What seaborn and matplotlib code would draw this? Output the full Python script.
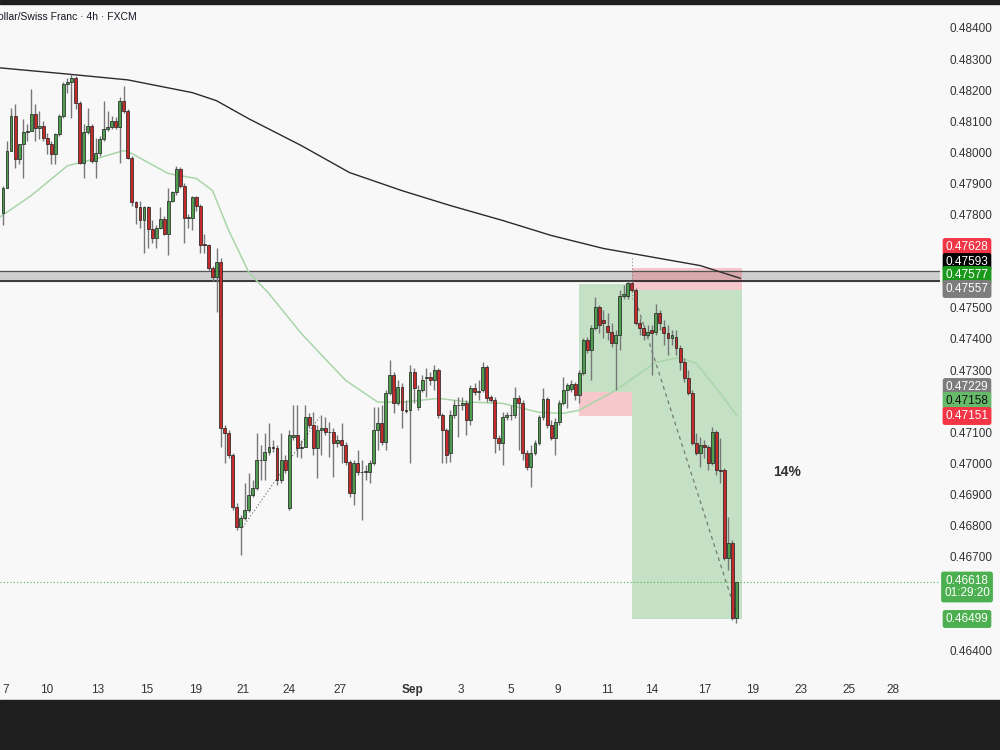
import numpy as np
import pandas as pd
import seaborn as sns
import matplotlib.pyplot as plt
from matplotlib.patches import Rectangle

# NZD/CHF 4h candles, prices in 1e-5 units
opens = [
    47806, 47887, 48006, 48118, 47980, 48028, 48066, 48070, 48124, 48079,
    48086, 48047, 48028, 47996, 48060, 48118, 48221, 48227, 48240, 48160,
    47967, 48066, 48086, 47973, 47999, 48044, 48076, 48083, 48102, 48083,
    48166, 48134, 47983, 47839, 47823, 47781, 47823, 47755, 47726, 47758,
    47787, 47739, 47845, 47871, 47948, 47893, 47790, 47790, 47855, 47829,
    47707, 47701, 47627, 47598, 47646, 47113, 47097, 47026, 46860, 46795,
    46824, 46850, 46898, 46921, 47010, 47010, 47036, 47052, 47049, 46946,
    47010, 46856, 47084, 47091, 47049, 47052, 47148, 47123, 47049, 47107,
    47113, 47100, 47100, 47065, 47075, 47059, 47004, 46905, 47001, 46972,
    46972, 46972, 47001, 47107, 47129, 47068, 47226, 47283, 47193, 47245,
    47171, 47171, 47293, 47180, 47235, 47274, 47277, 47267, 47299, 47155,
    47107, 47033, 47155, 47187, 47187, 47193, 47139, 47242, 47229, 47235,
    47309, 47213, 47203, 47081, 47065, 47148, 47155, 47155, 47209, 47193,
    47033, 46988, 47033, 47065, 47148, 47206, 47123, 47081, 47132, 47193,
    47235, 47238, 47254, 47219, 47290, 47396, 47364, 47434, 47502, 47460,
    47441, 47421, 47386, 47412, 47537, 47537, 47579, 47556, 47453, 47434,
    47412, 47428, 47421, 47482, 47437, 47418, 47402, 47405, 47370, 47325,
    47274, 47226, 47065, 47033, 47059, 47052, 47001, 47100, 46978, 46978,
    46696, 46744, 46503,
]
highs = [
    47893, 48038, 48144, 48156, 48028, 48108, 48092, 48205, 48156, 48134,
    48102, 48063, 48038, 48063, 48124, 48227, 48240, 48253, 48246, 48166,
    48092, 48144, 48092, 48047, 48054, 48166, 48134, 48118, 48115, 48179,
    48214, 48140, 47989, 47845, 47845, 47829, 47829, 47781, 47765, 47823,
    47797, 47884, 47877, 47957, 47954, 47900, 47803, 47861, 47861, 47835,
    47739, 47707, 47636, 47691, 47659, 47123, 47107, 47033, 46872, 46834,
    46937, 46969, 46946, 47097, 47059, 47097, 47129, 47075, 47059, 47097,
    47026, 47107, 47187, 47187, 47075, 47187, 47161, 47164, 47123, 47155,
    47148, 47132, 47113, 47091, 47129, 47068, 47010, 47010, 47043, 47010,
    46994, 47010, 47180, 47180, 47187, 47235, 47331, 47293, 47267, 47258,
    47203, 47315, 47306, 47251, 47283, 47306, 47293, 47315, 47306, 47161,
    47113, 47171, 47203, 47213, 47213, 47203, 47251, 47258, 47267, 47325,
    47315, 47219, 47213, 47091, 47164, 47164, 47187, 47245, 47219, 47203,
    47043, 47059, 47075, 47155, 47242, 47213, 47139, 47145, 47203, 47277,
    47258, 47267, 47261, 47299, 47402, 47405, 47444, 47534, 47508, 47492,
    47482, 47450, 47428, 47556, 47572, 47585, 47585, 47563, 47466, 47444,
    47444, 47444, 47514, 47492, 47460, 47444, 47428, 47428, 47380, 47338,
    47299, 47235, 47097, 47084, 47075, 47059, 47116, 47107, 47081, 46985,
    46827, 46754, 46620,
]
lows = [
    47765, 47884, 48006, 47951, 47964, 47916, 48038, 48070, 48038, 48044,
    48038, 47996, 47964, 47964, 48054, 48111, 48192, 48111, 48140, 47964,
    47919, 48060, 47967, 47919, 47989, 48038, 48070, 48076, 48076, 47967,
    48127, 47980, 47829, 47771, 47758, 47678, 47694, 47710, 47691, 47755,
    47733, 47669, 47839, 47864, 47884, 47710, 47758, 47749, 47813, 47678,
    47675, 47620, 47588, 47486, 47052, 47001, 47017, 46850, 46786, 46705,
    46818, 46844, 46892, 46914, 46946, 46946, 47026, 47036, 46930, 46937,
    46969, 46850, 47075, 47020, 47017, 47052, 47113, 47026, 46953, 47026,
    47091, 47020, 46956, 47052, 47001, 46994, 46892, 46866, 46962, 46818,
    46946, 46937, 46994, 47043, 47059, 47043, 47219, 47161, 47187, 47113,
    47161, 47001, 47193, 47171, 47229, 47213, 47251, 47235, 47145, 47001,
    47001, 47004, 47145, 47084, 47171, 47091, 47123, 47219, 47203, 47229,
    47197, 47197, 47033, 47043, 46994, 47139, 47139, 47145, 47043, 47010,
    46978, 46924, 47026, 47059, 47139, 47113, 47075, 47026, 47123, 47187,
    47177, 47229, 47203, 47193, 47283, 47354, 47267, 47428, 47418, 47402,
    47396, 47373, 47235, 47364, 47530, 47530, 47550, 47444, 47412, 47396,
    47405, 47283, 47412, 47428, 47380, 47347, 47380, 47347, 47299, 47261,
    47219, 47059, 47026, 46988, 47017, 46978, 46994, 46962, 46937, 46689,
    46657, 46497, 46487,
]
closes = [
    47887, 48006, 48118, 47980, 48028, 48066, 48070, 48124, 48079, 48086,
    48047, 48028, 47996, 48060, 48118, 48221, 48227, 48240, 48160, 47967,
    48066, 48086, 47973, 47999, 48044, 48076, 48083, 48102, 48083, 48166,
    48134, 47983, 47839, 47823, 47781, 47823, 47755, 47726, 47758, 47787,
    47739, 47845, 47871, 47948, 47893, 47790, 47792, 47855, 47829, 47701,
    47701, 47627, 47598, 47646, 47113, 47097, 47026, 46860, 46795, 46824,
    46850, 46898, 46921, 47010, 47012, 47036, 47052, 47049, 46946, 47010,
    46978, 47091, 47091, 47049, 47052, 47148, 47123, 47049, 47107, 47113,
    47100, 47101, 47065, 47075, 47059, 47004, 46905, 47001, 46972, 46973,
    46975, 47001, 47107, 47129, 47068, 47226, 47283, 47193, 47245, 47171,
    47168, 47293, 47242, 47235, 47267, 47277, 47267, 47299, 47155, 47107,
    47026, 47155, 47187, 47189, 47193, 47139, 47242, 47229, 47232, 47309,
    47209, 47203, 47081, 47065, 47148, 47155, 47157, 47209, 47193, 47033,
    46988, 47033, 47065, 47148, 47206, 47123, 47081, 47132, 47193, 47235,
    47251, 47254, 47219, 47290, 47396, 47364, 47434, 47502, 47444, 47450,
    47421, 47386, 47412, 47537, 47546, 47579, 47556, 47453, 47434, 47412,
    47421, 47418, 47482, 47450, 47418, 47402, 47412, 47370, 47325, 47274,
    47226, 47065, 47033, 47059, 47052, 47001, 47100, 46978, 46975, 46696,
    46744, 46503, 46618,
]

# moving averages, read at candle positions
ma_slow_idx = [-1, 15, 31, 47, 53, 61, 74, 86, 99, 111, 124, 136, 149, 156, 163, 173, 183]
ma_slow = [48272, 48253, 48233, 48192, 48166, 48108, 48022, 47935, 47877, 47829,
           47781, 47733, 47691, 47675, 47659, 47636, 47595]
ma_fast_idx = [-1, 7, 16, 24, 30, 32, 41, 48, 52, 56, 61, 66, 74, 85, 93, 99, 108,
               116, 124, 133, 139, 143, 152, 162, 168, 172, 178, 182]
ma_fast = [47790, 47861, 47957, 47983, 48006, 47996, 47932, 47916, 47877, 47749,
           47614, 47546, 47418, 47267, 47197, 47197, 47209, 47197, 47193, 47164,
           47161, 47171, 47235, 47325, 47341, 47322, 47226, 47155]

tick_pos = [0.6, 10.9, 23.6, 35.7, 47.9, 59.6, 71.0, 83.6, 101.7, 113.7, 126.1,
            137.7, 149.9, 161.0, 174.2, 185.9, 198.0, 209.9, 220.8]
tick_labels = ["7", "10", "13", "15", "19", "21", "24", "27", "Sep", "3", "5", "9",
               "11", "14", "17", "19", "23", "25", "28"]
price_ticks = [0.484, 0.483, 0.482, 0.481, 0.480, 0.479, 0.478, 0.475, 0.474, 0.473,
               0.471, 0.470, 0.469, 0.468, 0.467, 0.464]

# drawn levels
zone_top, zone_bot = 0.47620, 0.47585
long_stop, long_entry, long_target = 0.47151, 0.47229, 0.47577
short_stop, short_entry, short_target = 0.47628, 0.47557, 0.46499
last_price = 0.46618

bg = "#f8f8f8"
up_col, down_col = "#4f9d4f", "#c42b2b"

sns.set_theme(style="white", rc={"axes.facecolor": bg, "figure.facecolor": bg})
plt.rcParams["font.family"] = ["Liberation Sans", "DejaVu Sans"]

df = pd.DataFrame({"o": opens, "h": highs, "l": lows, "c": closes}) / 1e5
df["i"] = np.arange(len(df))
df["h"] = df[["h", "o", "c"]].max(axis=1)
df["l"] = df[["l", "o", "c"]].min(axis=1)
df["up"] = df["c"] >= df["o"]

fig = plt.figure(figsize=(10, 7.5), dpi=100)
ax = fig.add_axes([0, 1 - 678 / 750, 0.94, 673 / 750])
ax.set_xlim(-0.74, 232.5)
ax.set_ylim(0.463101, 0.484738)

# support / resistance zone
ax.axhspan(zone_bot, zone_top, color="#cfcfcf", zorder=1)
ax.axhline(zone_top, color="#555555", lw=0.9, zorder=2)
ax.axhline(zone_bot, color="#111111", lw=1.1, zorder=2)

# long position box
ax.fill_between([143.0, 156.0], long_entry, long_target, color="#4caf50", alpha=0.3, lw=0, zorder=1)
ax.fill_between([143.0, 156.0], long_stop, long_entry, color="#f23645", alpha=0.25, lw=0, zorder=1)
# short position box
ax.fill_between([156.0, 183.3], short_entry, short_stop, color="#f23645", alpha=0.25, lw=0, zorder=1)
ax.fill_between([156.0, 183.3], short_target, short_entry, color="#4caf50", alpha=0.3, lw=0, zorder=1)

# trend lines
ax.plot([157, 182.3], [0.47524, 0.46503], color="#777777", lw=0.9, ls=(0, (3, 3)), zorder=2)
ax.plot([59.5, 78.5], [0.46795, 0.47148], color="#666666", lw=0.8, ls=(0, (1, 2)), zorder=2)
ax.plot([156.2, 156.2], [0.47530, 0.47668], color="#888888", lw=0.8, ls=(0, (1, 2)), zorder=2)

# current price line
ax.axhline(last_price, color="#4caf50", lw=0.8, ls=(0, (1, 2)), zorder=2)

# moving averages
sns.lineplot(x=ma_slow_idx, y=np.array(ma_slow) / 1e5, ax=ax, color="#2b2b2b", lw=1.0, zorder=3)
sns.lineplot(x=ma_fast_idx, y=np.array(ma_fast) / 1e5, ax=ax, color="#a8d6a8", lw=1.1, zorder=3)

# candles
ax.vlines(df["i"], df["l"], df["h"], color="#777777", lw=1.0, zorder=4)
body = np.maximum((df["c"] - df["o"]).abs(), 0.000015)
bottom = df[["o", "c"]].min(axis=1)
for flag, col in [(True, up_col), (False, down_col)]:
    m = df["up"] == flag
    ax.bar(df["i"][m], body[m], bottom=bottom[m], width=0.72, color=col,
           edgecolor="#1c1c1c", linewidth=0.5, zorder=5)

ax.text(194.5, 0.46971, "14%", fontsize=10, fontweight="bold", color="#333333",
        ha="center", va="center", zorder=6)

# axes styling
for s in ax.spines.values():
    s.set_visible(False)
ax.yaxis.tick_right()
ax.set_yticks(price_ticks)
ax.set_yticklabels([f"{p:.5f}" for p in price_ticks])
ax.set_xticks(tick_pos)
ax.set_xticklabels(tick_labels)
ax.get_xticklabels()[8].set_fontweight("bold")
ax.tick_params(axis="y", length=0, pad=7, labelsize=8.5, labelcolor="#333333")
ax.tick_params(axis="x", length=0, pad=4, labelsize=8.5, labelcolor="#333333")
ax.set_xlabel("")
ax.set_ylabel("")

# price labels on the scale
def tag(y_px, txt, fc, tc="white"):
    fig.text(967 / 1000, 1 - y_px / 750, txt, ha="center", va="center", fontsize=8.5,
             color=tc, linespacing=1.1,
             bbox=dict(boxstyle="round,pad=0.25,rounding_size=0.2", fc=fc, ec="none"))

tag(247, "0.47628", "#f23645")
tag(262, "0.47593", "#000000")
tag(275, "0.47577", "#1a991a")
tag(289, "0.47557", "#7d7d7d")
tag(387, "0.47229", "#7d7d7d")
tag(401, "0.47158", "#66bb6a", "#111111")
tag(416, "0.47151", "#f23645")
tag(587, "0.46618\n01:29:20", "#4caf50")
tag(619, "0.46499", "#4caf50")

# header and footer bars
fig.text(-0.002, 1 - 17 / 750, "ollar/Swiss Franc · 4h · FXCM", fontsize=7.5,
         color="#131722", ha="left", va="center")
fig.add_artist(Rectangle((0, 0), 1, 50 / 750, transform=fig.transFigure,
                         color="#1e1e1e", zorder=10))
fig.add_artist(Rectangle((0, 1 - 4 / 750), 1, 4 / 750, transform=fig.transFigure,
                         color="#1e1e1e", zorder=10))

fig.savefig("out.png", dpi=100, facecolor=bg)
